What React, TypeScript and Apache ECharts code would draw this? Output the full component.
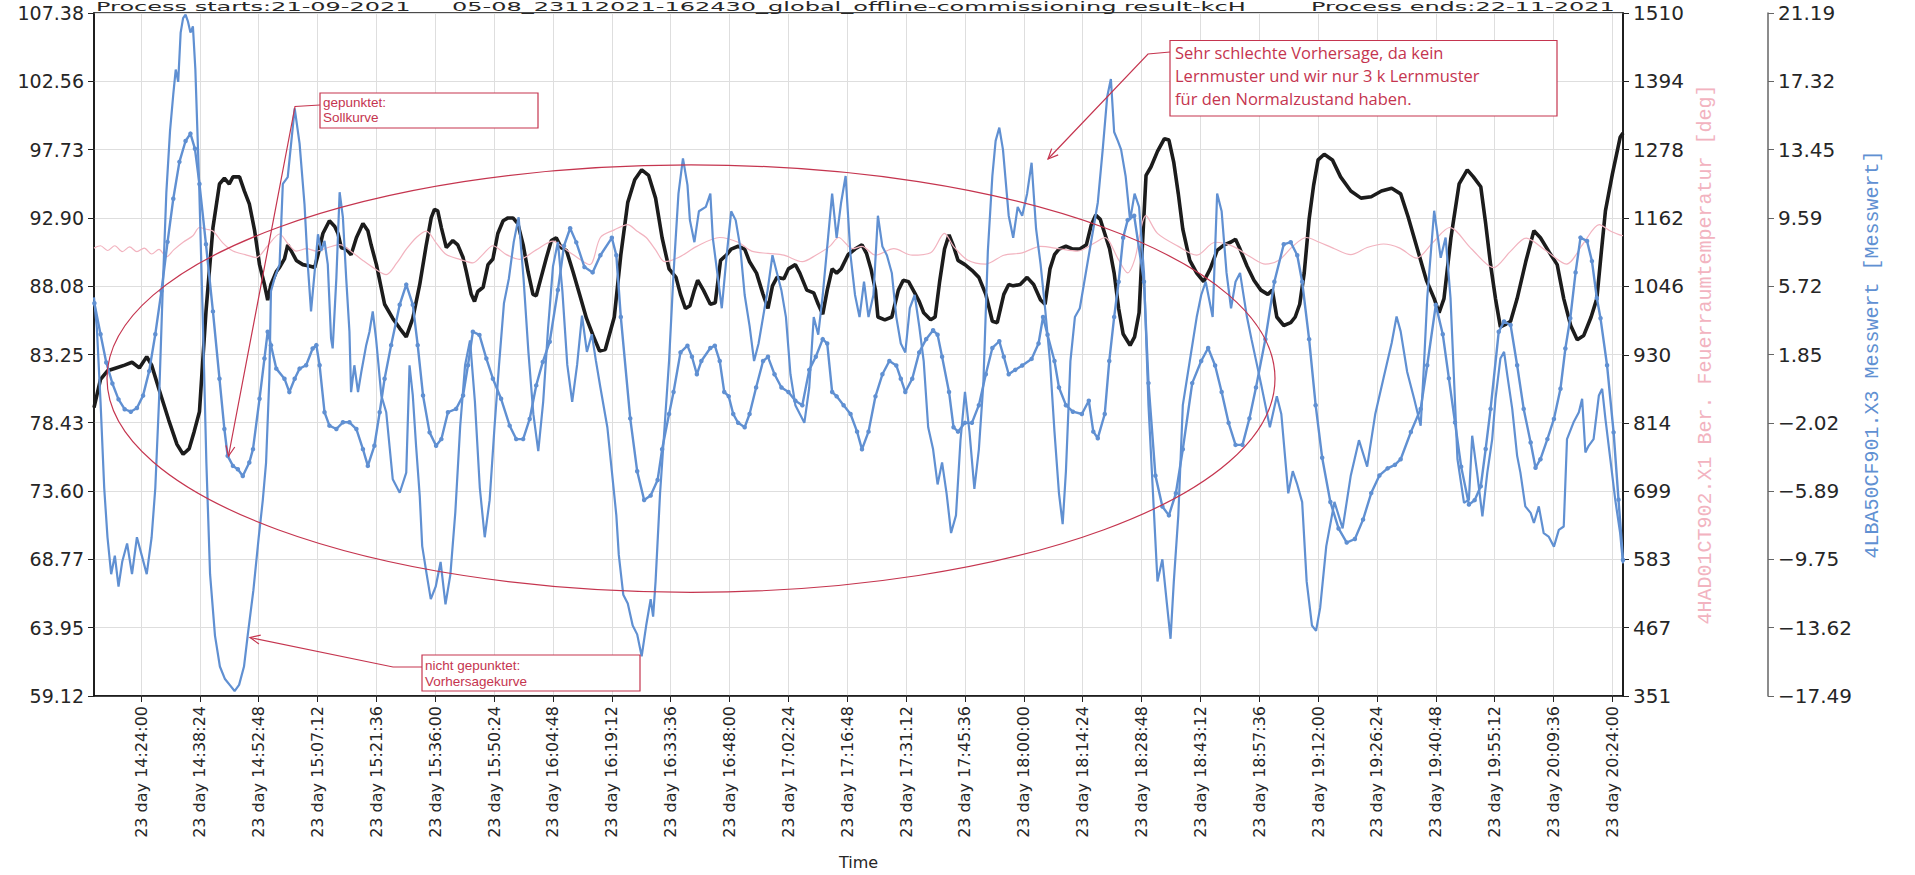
import React, { useEffect, useRef } from 'react';
import * as echarts from 'echarts';

// Time axis: minutes after 14:24:00 on day 23
const BASE_MINUTES = 14 * 60 + 24;
const X_MIN = -11.5;
const X_MAX = 362.6;
const xTickTimes = [
  '14:24:00', '14:38:24', '14:52:48', '15:07:12', '15:21:36', '15:36:00', '15:50:24',
  '16:04:48', '16:19:12', '16:33:36', '16:48:00', '17:02:24', '17:16:48', '17:31:12',
  '17:45:36', '18:00:00', '18:14:24', '18:28:48', '18:43:12', '18:57:36', '19:12:00',
  '19:26:24', '19:40:48', '19:55:12', '20:09:36', '20:24:00',
];
const dayPrefix = '23 day';

const leftTicks = [59.12, 63.95, 68.77, 73.6, 78.43, 83.25, 88.08, 92.9, 97.73, 102.56, 107.38];
const tempTicks = [351, 467, 583, 699, 814, 930, 1046, 1162, 1278, 1394, 1510];
const flowTicks = [-17.49, -13.62, -9.75, -5.89, -2.02, 1.85, 5.72, 9.59, 13.45, 17.32, 21.19];

const titleStart = 'Process starts:21-09-2021';
const titleFile = '05-08_23112021-162430_global_offline-commissioning result-kcH';
const titleEnd = 'Process ends:22-11-2021';

const tempAxisName = '4HAD01CT902.X1 Ber. Feuerraumtemperatur [deg]';
const flowAxisName = '4LBA50CF901.X3 Messwert [Messwert]';

// Left axis quantity (thick black)
const mainCurve: [number, number][] = [
  [-11.5, 79.5], [-9.9, 81.5], [-8.2, 82.1], [-6.1, 82.3], [-4.0, 82.5], [-2.2, 82.7], [-0.4, 82.3],
  [1.4, 83.1], [2.6, 82.5], [4.4, 80.8], [6.8, 78.6], [8.8, 76.9], [10.3, 76.2], [11.8, 76.6], [13.0, 77.8],
  [14.3, 79.2], [15.9, 86.3], [17.6, 92.2], [19.2, 95.3], [20.4, 95.7], [21.6, 95.3], [22.5, 95.8],
  [24.1, 95.8], [25.3, 94.8], [26.5, 93.9], [27.8, 92.0], [29.0, 89.6], [30.2, 88.2], [31.0, 87.1],
  [31.8, 88.2], [33.1, 89.1], [33.9, 89.4], [35.1, 90.0], [35.9, 91.0], [36.7, 90.6], [38.0, 89.9],
  [39.6, 89.6], [41.2, 89.5], [42.5, 89.4], [43.3, 90.3], [44.5, 91.8], [46.1, 92.7], [47.4, 92.3],
  [48.2, 91.8], [49.0, 90.8], [50.2, 90.7], [51.4, 90.3], [52.7, 91.5], [54.3, 92.5], [55.5, 92.0],
  [56.3, 91.0], [57.6, 89.6], [59.6, 86.8], [61.6, 85.8], [63.3, 85.1], [64.9, 84.5], [66.5, 85.8],
  [68.2, 88.2], [69.8, 91.0], [71.0, 92.9], [71.8, 93.5], [72.6, 93.4], [73.5, 92.2], [74.7, 90.8],
  [76.3, 91.3], [77.5, 91.0], [78.8, 90.1], [79.6, 89.1], [80.8, 87.5], [81.6, 87.0], [82.4, 87.7],
  [83.7, 88.0], [84.9, 89.6], [86.1, 90.0], [87.3, 91.8], [88.6, 92.7], [89.8, 92.9], [91.0, 92.9],
  [92.2, 92.5], [93.5, 91.0], [94.7, 89.1], [95.9, 87.5], [96.7, 87.4], [97.9, 88.7], [99.2, 90.1],
  [100.4, 91.3], [101.6, 91.5], [102.8, 90.8], [104.1, 90.6], [105.7, 89.1], [107.3, 87.5], [109.0, 85.8],
  [110.6, 84.6], [112.2, 83.5], [113.6, 83.6], [115.8, 85.9], [117.4, 90.3], [119.1, 94.0], [120.8, 95.6],
  [122.5, 96.3], [124.2, 95.9], [125.9, 94.3], [127.5, 91.5], [129.2, 89.3], [130.9, 88.7], [132.0, 87.5],
  [133.2, 86.5], [134.3, 86.7], [135.4, 87.8], [136.2, 88.5], [137.6, 87.8], [139.3, 86.8], [140.5, 86.9],
  [141.8, 89.9], [143.3, 90.3], [144.4, 90.7], [146.1, 90.9], [147.7, 90.7], [148.9, 89.8], [150.6, 89.0],
  [152.2, 87.5], [153.4, 86.5], [154.5, 88.1], [155.6, 88.7], [157.3, 88.6], [158.4, 89.3], [160.1, 89.6],
  [161.2, 89.0], [162.9, 87.8], [164.6, 87.6], [165.7, 86.8], [166.8, 86.1], [167.9, 87.8], [169.1, 89.3],
  [170.2, 89.0], [171.3, 89.3], [173.0, 90.3], [174.7, 90.7], [176.4, 91.0], [177.5, 90.4], [178.6, 89.3],
  [179.7, 87.8], [180.3, 85.9], [182.0, 85.7], [183.7, 85.9], [185.3, 87.8], [186.5, 88.5], [187.8, 88.4],
  [189.3, 87.6], [190.4, 87.0], [191.5, 86.2], [193.2, 85.7], [194.3, 85.9], [195.4, 88.4], [196.6, 90.7],
  [197.7, 91.7], [198.8, 90.9], [199.9, 89.9], [201.6, 89.6], [203.3, 89.2], [205.0, 88.7], [206.7, 87.5],
  [208.3, 85.6], [209.5, 85.5], [211.1, 87.5], [212.3, 88.2], [213.4, 88.1], [215.1, 88.2], [216.8, 88.7],
  [218.4, 88.2], [220.1, 87.1], [221.2, 86.8], [222.4, 89.3], [223.5, 90.3], [224.6, 90.7], [226.3, 90.9],
  [228.0, 90.7], [229.7, 90.7], [231.3, 91.0], [232.5, 92.4], [233.6, 93.1], [234.7, 92.8], [235.8, 91.8],
  [237.0, 90.7], [238.1, 89.0], [239.2, 86.5], [240.3, 84.7], [242.0, 83.9], [243.1, 84.5], [244.2, 86.2],
  [245.0, 90.9], [245.9, 95.9], [247.1, 96.5], [248.7, 97.6], [250.4, 98.5], [251.5, 98.4], [252.7, 96.8],
  [253.8, 94.6], [254.9, 92.1], [256.6, 89.9], [258.3, 89.0], [260.0, 88.4], [261.6, 89.3], [263.3, 90.6],
  [265.0, 91.0], [266.7, 91.2], [267.8, 91.4], [268.9, 90.7], [270.6, 89.5], [272.3, 88.5], [274.0, 87.8],
  [275.7, 87.5], [276.8, 87.8], [277.9, 85.9], [279.6, 85.3], [281.3, 85.5], [282.4, 85.9], [283.5, 86.8],
  [284.6, 89.0], [285.8, 92.8], [286.9, 95.2], [288.0, 97.0], [289.5, 97.4], [291.5, 97.0], [293.5, 95.8],
  [296.0, 94.8], [298.5, 94.3], [301.0, 94.4], [303.5, 94.8], [306.0, 95.0], [308.2, 94.6], [310.0, 93.0],
  [312.5, 90.5], [314.5, 88.5], [316.4, 87.2], [317.6, 86.2], [318.8, 87.2], [320.5, 91.5], [322.5, 95.3],
  [324.5, 96.3], [326.0, 95.8], [327.8, 95.1], [329.0, 92.5], [330.2, 89.6], [331.4, 87.2], [332.6, 85.2],
  [334.0, 85.4], [335.1, 85.6], [336.7, 87.2], [338.8, 89.8], [340.8, 92.0], [342.4, 91.5], [344.5, 90.5],
  [346.5, 89.6], [348.1, 87.2], [349.8, 85.3], [351.4, 84.3], [353.0, 84.6], [354.8, 85.9], [356.2, 87.2],
  [357.3, 90.5], [358.3, 93.4], [360.0, 96.0], [361.9, 98.6], [362.6, 98.9],
];

// Furnace temperature (thin pink, right axis)
const furnaceTemp: [number, number][] = [
  [-11.5, 1111], [-9.9, 1115], [-8.2, 1107], [-6.4, 1115], [-4.6, 1105], [-2.8, 1113], [-1.0, 1105],
  [0.8, 1111], [2.6, 1101], [4.4, 1109], [6.2, 1096], [8.0, 1108], [10.3, 1121], [12.7, 1132],
  [14.3, 1146], [16.0, 1143], [17.6, 1140], [20.0, 1120], [22.5, 1106], [25.5, 1100], [28.2, 1095],
  [31.0, 1115], [33.9, 1135], [36.0, 1118], [38.0, 1106], [40.5, 1110], [42.9, 1106], [45.8, 1112],
  [48.6, 1117], [51.5, 1105], [54.3, 1090], [57.2, 1076], [60.0, 1066], [62.5, 1085], [65.0, 1110],
  [67.5, 1130], [69.8, 1140], [72.2, 1120], [74.7, 1100], [78.0, 1092], [81.2, 1086], [83.6, 1100],
  [86.1, 1115], [89.4, 1100], [92.6, 1092], [96.7, 1108], [100.8, 1123], [103.3, 1112], [105.7, 1100],
  [109.8, 1083], [112.4, 1129], [115.8, 1142], [119.1, 1151], [121.3, 1140], [123.6, 1129], [125.9, 1108],
  [128.1, 1088], [131.5, 1095], [136.0, 1114], [141.6, 1129], [146.1, 1121], [149.4, 1106], [153.4, 1102],
  [157.3, 1099], [161.8, 1088], [165.1, 1099], [168.5, 1114], [170.7, 1129], [174.1, 1110], [176.4, 1114],
  [179.7, 1099], [184.2, 1110], [188.7, 1099], [193.2, 1103], [196.6, 1136], [198.8, 1114], [202.2, 1091],
  [206.7, 1084], [211.1, 1099], [215.6, 1103], [220.1, 1114], [224.6, 1110], [229.1, 1106], [233.6, 1121],
  [235.8, 1129], [239.2, 1091], [241.4, 1069], [243.1, 1091], [245.9, 1166], [248.7, 1136], [253.8, 1114],
  [258.3, 1099], [262.8, 1121], [267.2, 1114], [271.7, 1095], [275.1, 1084], [278.5, 1091], [281.8, 1114],
  [285.1, 1129], [288.3, 1121], [292.0, 1110], [296.0, 1100], [300.0, 1112], [304.0, 1118], [308.0, 1111],
  [312.1, 1094], [316.0, 1120], [320.2, 1146], [325.5, 1110], [330.9, 1078], [335.0, 1105], [338.9, 1128],
  [343.7, 1107], [348.8, 1084], [352.8, 1118], [356.8, 1151], [359.5, 1140], [361.6, 1134], [362.6, 1132],
];

// Target curve (dotted, with markers)
const targetCurve: [number, number][] = [
  [-11.4, 4.75], [-9.9, 3.0], [-8.5, 1.4], [-7.0, 0.21], [-5.5, -0.69], [-4.0, -1.25], [-2.5, -1.39],
  [-1.0, -1.18], [0.5, -0.48], [2.0, 0.91], [3.5, 3.0], [5.0, 5.44], [6.5, 8.23], [7.9, 10.67],
  [9.4, 12.76], [10.9, 13.94], [12.1, 14.36], [13.2, 13.5], [14.3, 11.51], [15.9, 8.09], [17.6, 4.29],
  [19.2, 0.48], [20.4, -2.37], [21.2, -3.89], [22.5, -4.46], [23.7, -4.65], [24.9, -5.03], [26.5, -4.27],
  [27.4, -3.51], [29.0, -0.66], [30.2, 1.62], [31.0, 3.14], [31.8, 2.38], [33.1, 1.05], [35.1, 0.48],
  [36.3, -0.28], [37.6, 0.48], [38.8, 1.05], [40.4, 1.24], [42.0, 2.19], [42.9, 2.38], [43.7, 1.24],
  [44.9, -1.42], [46.1, -2.18], [47.8, -2.37], [49.4, -1.99], [51.0, -1.99], [52.7, -2.37], [54.3, -3.51],
  [55.5, -4.46], [57.1, -3.32], [58.4, -1.42], [59.6, 0.48], [61.2, 2.38], [63.3, 4.67], [64.9, 5.81],
  [66.5, 4.67], [67.7, 2.38], [69.0, -0.47], [70.6, -2.56], [72.2, -3.32], [73.5, -2.94], [75.1, -1.42],
  [77.1, -1.23], [78.8, -0.47], [80.0, 1.24], [81.2, 3.14], [82.8, 2.96], [84.5, 1.62], [86.1, 0.48],
  [88.1, -0.66], [90.2, -2.18], [91.8, -2.94], [93.5, -2.94], [95.1, -1.8], [96.7, 0.1], [98.3, 1.43],
  [100.0, 2.57], [102.0, 5.5], [103.5, 8.0], [105.0, 9.0], [106.5, 8.2], [108.5, 6.8], [110.5, 6.5],
  [112.4, 7.47], [115.2, 8.46], [116.3, 7.47], [117.4, 3.97], [119.7, -1.77], [121.4, -4.76], [123.1, -6.39],
  [124.7, -6.14], [126.4, -5.26], [127.5, -3.52], [129.2, -1.52], [130.3, -0.27], [132.0, 1.97], [133.7, 2.35],
  [134.8, 1.72], [136.0, 0.73], [137.1, 1.48], [139.3, 2.22], [140.4, 2.35], [141.6, 1.48], [142.7, -0.27],
  [143.8, -0.52], [144.9, -1.52], [146.1, -2.02], [147.7, -2.27], [148.9, -1.52], [150.5, -0.02], [152.2, 1.48],
  [153.4, 1.72], [155.0, 0.73], [156.7, -0.02], [158.4, -0.27], [160.1, -0.77], [161.8, -1.02], [163.5, 0.98],
  [165.1, 1.72], [166.8, 2.72], [167.9, 2.47], [169.1, -0.27], [170.2, -0.52], [171.9, -1.02], [173.6, -1.52],
  [175.2, -2.52], [176.4, -3.52], [178.0, -2.52], [179.7, -0.52], [181.4, 0.73], [183.1, 1.48], [184.8, 1.23],
  [185.9, 0.48], [187.0, -0.27], [188.7, 0.48], [190.4, 1.97], [192.1, 2.72], [193.8, 3.22], [194.9, 2.97],
  [196.0, 1.72], [197.7, -0.27], [198.8, -2.27], [199.9, -2.52], [201.6, -2.02], [203.3, -2.02], [205.0, -1.02],
  [206.7, 0.73], [208.3, 2.22], [210.0, 2.6], [211.1, 1.72], [212.3, 0.73], [213.9, 0.98], [215.6, 1.23],
  [217.9, 1.6], [219.6, 2.47], [220.7, 3.97], [221.8, 2.97], [223.5, 1.48], [224.6, -0.02], [226.3, -1.02],
  [228.0, -1.39], [230.2, -1.52], [231.9, -0.77], [233.0, -2.52], [234.1, -2.89], [235.8, -1.52], [236.9, 1.48],
  [238.1, 3.97], [239.2, 5.97], [240.3, 8.46], [241.4, 9.46], [243.0, 9.71], [245.4, 5.97], [246.5, 0.23],
  [248.2, -5.01], [249.9, -6.76], [251.5, -7.26], [253.2, -6.01], [254.9, -3.52], [257.2, 0.23], [259.4, 1.48],
  [261.1, 2.22], [262.8, 1.23], [264.4, -0.27], [266.1, -2.02], [267.8, -3.27], [269.5, -3.27], [271.2, -1.77],
  [272.8, -0.02], [275.1, 2.72], [277.3, 5.97], [279.6, 8.09], [281.3, 8.21], [282.9, 7.47], [284.1, 5.97],
  [285.8, 2.72], [287.4, -1.02], [289.0, -4.0], [291.0, -6.5], [293.0, -8.0], [295.0, -8.8], [297.0, -8.6],
  [299.0, -7.5], [301.0, -6.0], [303.0, -5.0], [305.0, -4.6], [306.8, -4.4], [308.2, -4.08], [310.7, -2.54],
  [313.1, -1.23], [314.7, 1.24], [316.8, 4.66], [318.5, 3.0], [320.0, 0.5], [321.5, -2.0], [323.0, -4.5],
  [324.9, -6.65], [326.3, -6.4], [327.8, -5.61], [329.0, -3.5], [330.2, -1.23], [332.2, 3.14], [333.5, 3.72],
  [335.1, 3.52], [336.7, 1.24], [338.3, -1.23], [340.0, -3.13], [341.2, -4.56], [342.4, -4.08], [344.1, -2.94],
  [345.7, -1.8], [347.3, -0.09], [348.5, 2.19], [349.7, 3.9], [351.0, 6.5], [352.2, 8.47], [353.8, 8.28],
  [355.0, 7.14], [356.2, 5.05], [357.1, 3.9], [358.7, 1.24], [360.3, -2.56], [361.5, -6.37], [362.6, -9.79],
];

// Forecast curve (plain line)
const forecastCurve: [number, number][] = [
  [-11.5, 5.09], [-10.8, 3.35], [-9.9, -0.83], [-9.0, -5.71], [-8.2, -8.5], [-7.3, -10.59], [-6.4, -9.54],
  [-5.5, -11.29], [-4.6, -9.89], [-3.4, -8.85], [-2.2, -10.59], [-1.0, -8.5], [0.2, -9.54], [1.4, -10.59],
  [2.6, -8.5], [3.5, -5.71], [4.4, -0.83], [5.3, 5.44], [6.2, 11.02], [7.1, 14.5], [7.9, 16.59],
  [8.5, 17.99], [9.1, 17.29], [9.7, 20.08], [10.3, 20.9], [10.9, 21.1], [11.5, 20.7], [12.1, 20.08],
  [12.7, 20.43], [13.3, 17.99], [14.2, 11.71], [15.1, 4.05], [16.0, -4.32], [16.9, -10.59], [18.1, -14.07],
  [19.3, -15.82], [20.5, -16.51], [21.7, -16.86], [22.9, -17.21], [24.0, -16.86], [25.2, -15.82], [26.1, -14.07],
  [27.5, -11.5], [28.8, -8.5], [29.8, -6.4], [30.6, -4.27], [31.4, 0.48], [31.8, 5.43], [32.7, 6.19],
  [33.9, 6.95], [34.7, 11.51], [35.9, 11.89], [37.6, 15.79], [38.8, 13.79], [40.0, 10.37], [40.8, 6.95],
  [41.6, 4.29], [42.5, 6.57], [43.3, 8.66], [44.1, 7.71], [44.9, 8.28], [45.7, 6.95], [46.5, 2.77],
  [46.9, 2.2], [47.8, 6.19], [48.6, 11.04], [49.4, 9.61], [50.2, 6.19], [51.0, 3.14], [51.4, -0.28],
  [52.2, 1.24], [53.1, -0.28], [53.9, 0.86], [55.1, 2.38], [55.9, 3.14], [56.7, 4.29], [57.5, 2.77],
  [58.8, -0.47], [60.0, -1.42], [61.6, -5.22], [63.3, -5.98], [64.9, -4.84], [65.7, 1.24], [66.5, -0.47],
  [67.3, -3.32], [68.2, -6.17], [68.8, -9.0], [69.9, -10.6], [70.9, -12.0], [72.1, -11.3], [73.3, -9.9],
  [74.5, -12.3], [75.7, -10.6], [76.9, -7.1], [78.1, -2.2], [79.3, 1.26], [80.5, 2.65], [81.7, -0.83],
  [82.9, -5.71], [84.1, -8.5], [85.3, -6.4], [86.5, -2.23], [87.6, 1.26], [88.8, 4.75], [90.0, 6.14],
  [91.2, 8.23], [92.4, 9.62], [93.6, 6.14], [94.8, 1.96], [96.0, -1.53], [97.2, -3.62], [98.4, -0.83],
  [99.6, 3.35], [100.8, 6.84], [102.0, 8.23], [103.1, 5.44], [104.3, 1.26], [105.5, -0.83], [106.7, 1.26],
  [107.9, 4.05], [109.1, 2.0], [110.3, 3.0], [111.3, 1.5], [112.4, -0.02], [114.1, -2.27], [115.2, -4.76],
  [116.3, -7.26], [116.9, -9.5], [118.0, -11.75], [119.1, -12.25], [120.3, -13.5], [121.4, -14.0], [122.5, -15.24],
  [123.6, -13.5], [124.7, -12.0], [125.3, -13.0], [125.9, -11.0], [127.0, -6.01], [128.1, -2.27], [129.2, 1.48],
  [130.3, 6.47], [131.5, 10.96], [132.6, 12.96], [133.7, 11.46], [134.3, 9.46], [135.4, 8.21], [136.5, 9.96],
  [138.2, 10.21], [139.3, 10.96], [139.9, 8.46], [141.0, 6.47], [142.1, 4.47], [143.3, 7.47], [144.4, 9.96],
  [145.5, 9.46], [146.6, 7.96], [147.7, 5.22], [148.9, 3.47], [150.0, 1.48], [151.1, 2.47], [152.2, 3.97],
  [153.3, 5.47], [154.5, 7.47], [155.6, 6.47], [156.7, 5.47], [157.8, 3.97], [158.9, 0.73], [160.1, -1.02],
  [161.2, -1.52], [162.3, -2.02], [163.5, -0.02], [164.6, 3.97], [165.7, 2.97], [166.8, 5.22], [167.9, 7.96],
  [169.1, 10.96], [170.2, 8.46], [171.3, 10.46], [172.4, 11.96], [173.6, 7.47], [174.7, 5.22], [175.8, 3.97],
  [176.9, 5.97], [178.0, 3.97], [179.2, 5.22], [180.3, 9.71], [181.4, 7.96], [182.5, 7.47], [183.7, 6.47],
  [184.8, 3.97], [185.9, 2.47], [187.0, 1.97], [188.1, 4.47], [189.3, 5.22], [190.4, 3.47], [191.5, 1.48],
  [192.6, -2.27], [193.8, -3.52], [194.9, -5.51], [196.0, -4.26], [197.1, -6.01], [198.2, -8.26], [199.4, -7.26],
  [200.5, -3.02], [201.6, -0.27], [202.7, -2.52], [203.9, -5.76], [205.0, -3.52], [206.1, 0.23], [207.2, 7.71],
  [208.3, 11.96], [209.1, 13.95], [210.0, 14.7], [210.9, 13.45], [212.3, 9.71], [213.4, 8.46], [214.5, 10.21],
  [215.6, 9.71], [216.8, 10.96], [217.9, 12.71], [219.0, 8.96], [220.1, 6.97], [221.2, 4.47], [222.4, 1.48],
  [223.5, -2.52], [224.6, -6.01], [225.5, -7.76], [226.3, -4.76], [227.4, 1.48], [228.5, 3.97], [229.7, 4.47],
  [230.8, 5.97], [231.9, 7.47], [233.0, 8.96], [234.1, 10.46], [235.3, 13.45], [236.4, 16.45], [237.3, 17.45],
  [238.1, 14.45], [239.0, 13.95], [239.8, 13.45], [240.9, 11.96], [242.0, 9.46], [243.1, 10.96], [244.2, 10.21],
  [245.4, 6.47], [246.5, -1.02], [247.6, -6.01], [248.7, -11.0], [249.9, -9.75], [251.0, -12.25], [251.9, -14.25],
  [252.7, -11.0], [253.8, -7.26], [254.9, -1.02], [256.6, 1.48], [258.3, 3.97], [259.4, 5.22], [260.5, 5.97],
  [262.2, 3.97], [263.3, 10.96], [264.4, 9.96], [265.6, 6.47], [266.7, 4.47], [267.8, 5.97], [268.9, 6.47],
  [270.6, 3.97], [271.7, 2.72], [274.0, 0.23], [276.2, -2.27], [277.9, -0.52], [279.0, -1.52], [280.7, -6.01],
  [281.8, -4.76], [282.9, -5.51], [284.1, -6.51], [285.2, -11.0], [286.5, -13.5], [287.5, -13.8], [288.5, -12.5],
  [290.0, -9.0], [292.0, -6.5], [294.0, -8.0], [296.0, -5.0], [298.0, -3.0], [300.0, -4.5], [302.0, -1.5],
  [304.0, 0.5], [306.0, 2.5], [307.2, 4.0], [308.2, 3.16], [309.8, 0.86], [311.5, -0.66], [313.1, -2.18],
  [313.9, 1.24], [314.7, 5.05], [316.4, 9.99], [318.0, 7.33], [319.2, 8.47], [320.4, 5.05], [322.1, -4.08],
  [323.7, -6.55], [324.9, -6.37], [325.7, -2.75], [326.9, -4.84], [328.2, -7.32], [329.4, -4.84], [330.6, -2.94],
  [331.4, -0.66], [332.6, 1.62], [333.5, 2.0], [334.3, 0.67], [335.5, -1.23], [336.7, -3.89], [337.5, -4.84],
  [338.7, -6.75], [340.0, -7.12], [340.8, -7.69], [342.0, -6.75], [343.2, -8.27], [344.4, -8.46], [345.7, -9.03],
  [346.9, -8.08], [348.1, -7.89], [348.9, -2.94], [350.5, -1.99], [351.8, -1.42], [352.6, -0.66], [353.4, -3.7],
  [354.2, -3.32], [355.4, -2.94], [356.7, -0.47], [357.5, -0.09], [358.3, -1.8], [359.5, -4.08], [360.7, -6.37],
  [361.9, -8.27], [362.6, -9.98],
];

const COLORS = {
  main: '#1c1c1c',
  temp: '#f2b3bf',
  flow: '#6090d2',
  note: '#c5354f',
  text: '#262626',
  grid: '#dedede',
};

const pad2 = (n: number) => String(n).padStart(2, '0');
const toMinutes = (hms: string) => {
  const [h, m, s] = hms.split(':').map(Number);
  return h * 60 + m + s / 60 - BASE_MINUTES;
};
const clock = (v: number) => {
  const secs = Math.round((BASE_MINUTES + v) * 60);
  return `${pad2(Math.floor(secs / 3600))}:${pad2(Math.floor((secs % 3600) / 60))}:${pad2(secs % 60)}`;
};
const signed = (v: number) => (v < 0 ? '\u2212' + Math.abs(v).toFixed(2) : v.toFixed(2));

// Arrow head (two short strokes) at the end of a leader line
function arrowHead(from: [number, number], to: [number, number], len = 11, spread = 0.42) {
  const ang = Math.atan2(from[1] - to[1], from[0] - to[0]);
  const a = [to[0] + len * Math.cos(ang + spread), to[1] + len * Math.sin(ang + spread)];
  const b = [to[0] + len * Math.cos(ang - spread), to[1] + len * Math.sin(ang - spread)];
  return [a, to, b];
}

function noteBox(x: number, y: number, w: number, h: number) {
  return {
    type: 'rect', z: 100,
    shape: { x, y, width: w, height: h },
    style: { fill: '#ffffff', stroke: COLORS.note, lineWidth: 1.2 },
  };
}
function leader(points: [number, number][]) {
  const n = points.length;
  return [
    { type: 'polyline', z: 100, shape: { points }, style: { stroke: COLORS.note, lineWidth: 1.2, fill: null } },
    {
      type: 'polyline', z: 100,
      shape: { points: arrowHead(points[n - 2], points[n - 1]) },
      style: { stroke: COLORS.note, lineWidth: 1.2, fill: null },
    },
  ];
}

// Header line squeezed into the strip above the plot frame
function headerText(x: number, text: string) {
  return {
    type: 'text', z: 100, x, y: 0.5, scaleY: 0.5,
    style: {
      text, font: '24px "DejaVu Sans"', fill: COLORS.text, align: 'left', verticalAlign: 'top',
    },
  };
}

export default function App() {
  const ref = useRef<HTMLDivElement>(null);

  useEffect(() => {
    if (!ref.current) return;
    const chart = echarts.init(ref.current, null, { renderer: 'svg' });
    const xTicks = xTickTimes.map(toMinutes);

    const option: any = {
      animation: false,
      backgroundColor: '#ffffff',
      grid: {
        left: 94, right: 292, top: 13, bottom: 178,
        show: true, borderColor: '#111', borderWidth: 1.5, backgroundColor: 'transparent',
      },
      xAxis: {
        type: 'value', min: X_MIN, max: X_MAX,
        name: 'Time', nameLocation: 'middle', nameGap: 158,
        nameTextStyle: { fontFamily: 'DejaVu Sans', fontSize: 16, color: COLORS.text },
        axisLine: { show: true, onZero: false, lineStyle: { color: '#111', width: 1.5 } },
        axisTick: { show: true, length: 6, customValues: xTicks, lineStyle: { color: '#222' } },
        axisLabel: {
          customValues: xTicks, rotate: 90, margin: 10,
          fontFamily: 'DejaVu Sans', fontSize: 16, color: COLORS.text,
          formatter: (v: number) => `${dayPrefix} ${clock(v)}`,
        },
        splitLine: { show: true, lineStyle: { color: COLORS.grid, width: 1 } },
      },
      yAxis: [
        {
          type: 'value', position: 'left', min: leftTicks[0], max: leftTicks[leftTicks.length - 1],
          axisLine: { show: true, onZero: false, lineStyle: { color: '#111', width: 1.5 } },
          axisTick: { show: true, length: 6, customValues: leftTicks, lineStyle: { color: '#222' } },
          axisLabel: {
            customValues: leftTicks, margin: 10,
            fontFamily: 'DejaVu Sans', fontSize: 19, color: COLORS.text,
            formatter: (v: number) => v.toFixed(2),
          },
          splitLine: { show: true, lineStyle: { color: COLORS.grid, width: 1 } },
        },
        {
          type: 'value', position: 'right', min: tempTicks[0], max: tempTicks[tempTicks.length - 1],
          name: tempAxisName, nameLocation: 'middle', nameGap: 72, nameRotate: 90,
          nameTextStyle: { fontFamily: 'Liberation Mono', fontSize: 20, color: COLORS.temp },
          axisLine: { show: true, onZero: false, lineStyle: { color: '#111', width: 1.5 } },
          axisTick: { show: true, length: 6, customValues: tempTicks, lineStyle: { color: '#222' } },
          axisLabel: {
            customValues: tempTicks, margin: 10,
            fontFamily: 'DejaVu Sans', fontSize: 20, color: COLORS.text,
            formatter: (v: number) => String(Math.round(v)),
          },
          splitLine: { show: false },
        },
        {
          type: 'value', position: 'right', offset: 145,
          min: flowTicks[0], max: flowTicks[flowTicks.length - 1],
          name: flowAxisName, nameLocation: 'middle', nameGap: 92, nameRotate: 90,
          nameTextStyle: { fontFamily: 'Liberation Mono', fontSize: 20, color: COLORS.flow },
          axisLine: { show: true, onZero: false, lineStyle: { color: '#666', width: 1.5 } },
          axisTick: { show: true, length: 6, customValues: flowTicks, lineStyle: { color: '#666' } },
          axisLabel: {
            customValues: flowTicks, margin: 10,
            fontFamily: 'DejaVu Sans', fontSize: 20, color: COLORS.text,
            formatter: (v: number) => signed(v),
          },
          splitLine: { show: false },
        },
      ],
      series: [
        {
          name: 'main', type: 'line', yAxisIndex: 0, data: mainCurve, showSymbol: false,
          lineStyle: { color: COLORS.main, width: 3.6 }, z: 3,
        },
        {
          name: 'temperature', type: 'line', yAxisIndex: 1, data: furnaceTemp, showSymbol: false,
          smooth: 0.3, lineStyle: { color: COLORS.temp, width: 1.2 }, z: 4,
        },
        {
          name: 'target', type: 'line', yAxisIndex: 2, data: targetCurve,
          symbol: 'circle', symbolSize: 4.5, showSymbol: true,
          itemStyle: { color: COLORS.flow }, lineStyle: { color: COLORS.flow, width: 2.4 }, z: 5,
        },
        {
          name: 'forecast', type: 'line', yAxisIndex: 2, data: forecastCurve, showSymbol: false,
          lineStyle: { color: COLORS.flow, width: 2.2 }, z: 6,
        },
      ],
      graphic: [
        headerText(96, titleStart),
        headerText(452, titleFile),
        headerText(1311, titleEnd),
        {
          type: 'ellipse', z: 100,
          shape: { cx: 691, cy: 378.6, rx: 584, ry: 213.7 },
          style: { fill: null, stroke: COLORS.note, lineWidth: 1.2 },
        },
        noteBox(320, 93, 218, 35),
        {
          type: 'text', z: 101, x: 323, y: 95,
          style: {
            text: 'gepunktet:\nSollkurve', fill: COLORS.note, font: '13.5px "Liberation Sans"',
            lineHeight: 15, align: 'left', verticalAlign: 'top',
          },
        },
        ...leader([[320, 105], [295, 106.5], [228.5, 456]]),
        noteBox(422, 655, 218, 36),
        {
          type: 'text', z: 101, x: 425, y: 657,
          style: {
            text: 'nicht gepunktet:\nVorhersagekurve', fill: COLORS.note, font: '13.5px "Liberation Sans"',
            lineHeight: 16, align: 'left', verticalAlign: 'top',
          },
        },
        ...leader([[422, 667], [393, 667], [250, 637.5]]),
        noteBox(1170, 40.5, 387, 75.5),
        {
          type: 'text', z: 101, x: 1175, y: 41,
          style: {
            text: 'Sehr schlechte Vorhersage, da kein\nLernmuster und wir nur 3 k Lernmuster\nf\u00fcr den Normalzustand haben.',
            fill: COLORS.note, font: '16.5px "Open Sans"', lineHeight: 23, align: 'left', verticalAlign: 'top',
          },
        },
        ...leader([[1170, 52], [1148, 54], [1048, 159]]),
      ],
    };

    chart.setOption(option);
    return () => chart.dispose();
  }, []);

  return (
    <div
      ref={ref}
      style={{ position: 'fixed', left: 0, top: 0, width: 1915, height: 875, background: '#fff' }}
    />
  );
}
